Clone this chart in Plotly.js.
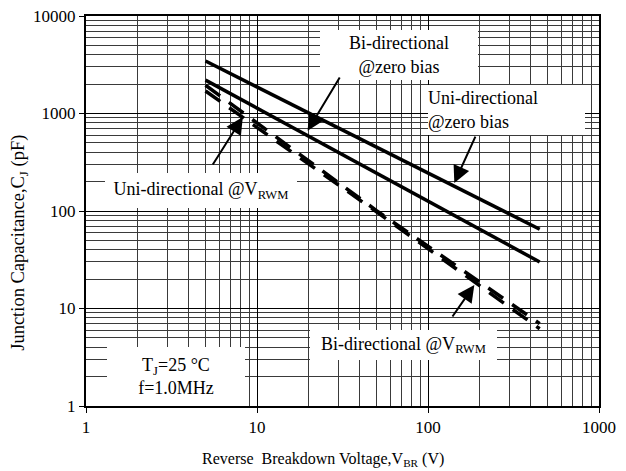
<!DOCTYPE html>
<html>
<head>
<meta charset="utf-8">
<script src="https://cdn.plot.ly/plotly-3.0.1.min.js"></script>
<style>
  html, body { margin: 0; padding: 0; background: #ffffff; }
  #chart { width: 626px; height: 471px; }
</style>
</head>
<body>
<div id="chart"></div>
<script>
// ---- data ----
const vbrSolid = [5, 450];                 // reverse breakdown voltage (V)
const uniZeroBias = [3450, 65];            // Uni-directional @zero bias (pF)
const biZeroBias = [2200, 30];             // Bi-directional @zero bias (pF)
const vbrRwm = [5, 50, 450];               // reverse breakdown voltage (V)
const uniVrwm = [1950, 101, 7.0];          // Uni-directional @VRWM (pF)
const biVrwm = [1700, 98, 6.2];            // Bi-directional @VRWM (pF)

const xTickVals = [1, 10, 100, 1000];
const xTickText = ['1', '10', '100', '1000'];
const yTickVals = [1, 10, 100, 1000, 10000];
const yTickText = ['1', '10', '100', '1000', '10000'];

const FONT = 'Liberation Serif';

const solid = {color: '#000000', width: 3.5};
const dashed = {color: '#000000', width: 3.5, dash: '18px,11px'};

const traces = [
  {x: vbrSolid, y: uniZeroBias, mode: 'lines', line: solid, name: 'Uni-directional @zero bias'},
  {x: vbrSolid, y: biZeroBias, mode: 'lines', line: solid, name: 'Bi-directional @zero bias'},
  {x: vbrRwm, y: uniVrwm, mode: 'lines', line: dashed, name: 'Uni-directional @VRWM'},
  {x: vbrRwm, y: biVrwm, mode: 'lines', line: dashed, name: 'Bi-directional @VRWM'}
];

function box(text, x, y, w, h, align) {
  return {
    xref: 'paper', yref: 'paper', x: x, y: y,
    xanchor: 'center', yanchor: 'middle',
    text: text, showarrow: false,
    width: w, height: h, align: align || 'center', valign: 'middle',
    bgcolor: '#ffffff', borderpad: 0, borderwidth: 0,
    font: {family: FONT, size: 18, color: '#000000'}
  };
}
// arrows: positions given in log10 units (Plotly annotations on log axes)
function arrow(tipX, tipY, tailX, tailY) {
  return {
    xref: 'x', yref: 'y', axref: 'x', ayref: 'y',
    x: tipX, y: tipY, ax: tailX, ay: tailY,
    text: '', showarrow: true,
    arrowhead: 2, arrowsize: 1.7, arrowwidth: 2, arrowcolor: '#000000'
  };
}

const annotations = [
  box('Bi-directional<br>@zero bias', 0.610, 0.900, 158, 50),
  box('Uni-directional<br>@zero bias', 0.820, 0.759, 157, 50, 'left'),
  box('Uni-directional @V<sub>RWM</sub>', 0.224, 0.553, 192, 35),
  box('Bi-directional @V<sub>RWM</sub>', 0.619, 0.156, 187, 30),
  box('T<sub>J</sub>=25 °C<br>f=1.0MHz', 0.175, 0.0756, 138, 59),
  arrow(1.296, 2.823, 1.489, 3.385),
  arrow(2.154, 2.287, 2.281, 2.779),
  arrow(0.917, 2.964, 0.736, 2.462),
  arrow(2.271, 1.241, 2.137, 0.903),
  {
    xref: 'paper', yref: 'paper', x: 0.462, y: -0.138,
    xanchor: 'center', yanchor: 'middle', showarrow: false,
    text: 'Reverse&nbsp; Breakdown Voltage,V<sub>BR</sub> (V)',
    font: {family: FONT, size: 16, color: '#000000'}
  },
  {
    xref: 'paper', yref: 'paper', x: -0.129, y: 0.418,
    xanchor: 'center', yanchor: 'middle', showarrow: false, textangle: -90,
    text: 'Junction Capacitance,C<sub>J</sub> (pF)',
    font: {family: FONT, size: 18.5, color: '#000000'}
  }
];

const axisCommon = {
  type: 'log',
  showline: true, mirror: true, linecolor: '#000000', linewidth: 2,
  ticks: 'outside', ticklen: 5, tickcolor: '#000000', tickwidth: 1,
  showgrid: true, gridcolor: '#000000', gridwidth: 1,
  zeroline: false,
  tickfont: {family: FONT, size: 17, color: '#000000'},
  minor: {showgrid: true, gridcolor: '#3a3a3a', gridwidth: 1, dtick: 'D1', ticks: ''}
};

const layout = {
  width: 626, height: 471,
  margin: {l: 86, r: 27, t: 16, b: 65, pad: 0},
  paper_bgcolor: '#ffffff', plot_bgcolor: '#ffffff',
  showlegend: false,
  font: {family: FONT, color: '#000000'},
  xaxis: Object.assign({}, axisCommon, {
    range: [0, 3], tickmode: 'array', tickvals: xTickVals, ticktext: xTickText
  }),
  yaxis: Object.assign({}, axisCommon, {
    range: [0, 4], tickmode: 'array', tickvals: yTickVals, ticktext: yTickText
  }),
  annotations: annotations
};

Plotly.newPlot('chart', traces, layout, {displayModeBar: false, staticPlot: true});
</script>
</body>
</html>
